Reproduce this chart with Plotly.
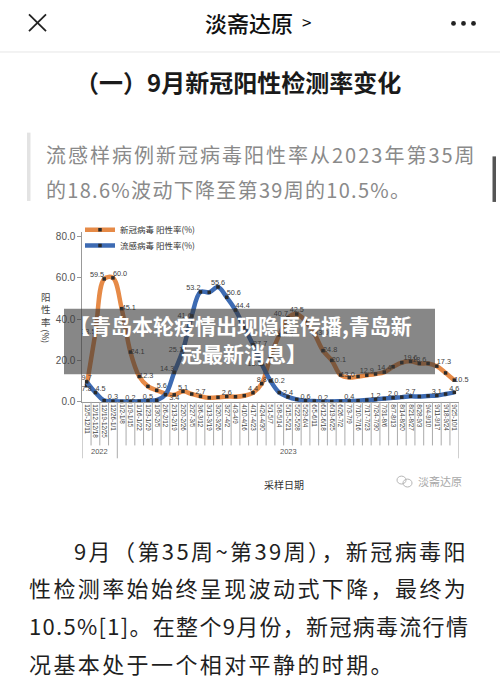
import plotly.graph_objects as go

# ---------------- data ----------------
weeks = ["12/5-12/11", "12/12-12/18", "12/19-12/25", "12/26-1/1",
         "1/2-1/8", "1/9-1/15", "1/16-1/22", "1/23-1/29", "1/30-2/5", "2/6-2/12",
         "2/13-2/19", "2/20-2/26", "2/27-3/5", "3/6-3/12", "3/13-3/19", "3/20-3/26",
         "3/27-4/2", "4/3-4/9", "4/10-4/16", "4/17-4/23", "4/24-4/30", "5/1-5/7",
         "5/8-5/14", "5/15-5/21", "5/22-5/28", "5/29-6/4", "6/5-6/11", "6/12-6/18",
         "6/19-6/25", "6/26-7/2", "7/3-7/9", "7/10-7/16", "7/17-7/23", "7/24-7/30",
         "7/31-8/6", "8/7-8/13", "8/14-8/20", "8/21-8/27", "8/28-9/3", "9/4-9/10",
         "9/11-9/17", "9/18-9/24", "9/25-10/1"]
year_groups = ["2022", "2023"]
year_sizes = [4, 39]

covid_rate = [7.8, 33.5, 59.5, 60.0, 45.1, 24.1, 12.3, 7.5, 5.6, 4.0,
              3.4, 5.1, 3.8, 2.7, 2.0, 2.2, 2.6, 2.5, 3.0, 4.4,
              8.8, 22.0, 32.4, 40.7, 42.5, 39.0, 33.0, 24.8, 20.1, 13.0,
              11.8, 12.3, 12.9, 13.5, 14.4, 17.0, 19.0, 19.6, 18.6, 18.6,
              17.3, 14.0, 10.5]
flu_rate = [9.7, 4.5, 0.6, 0.3, 0.2, 0.2, 0.3, 0.5, 0.8, 3.5,
            14.3, 25.1, 41.6, 53.2, 53.0, 55.6, 50.6, 44.4, 36.0, 27.7,
            18.3, 10.2, 4.5, 2.4, 1.2, 0.6, 0.4, 0.2, 0.2, 0.3,
            0.4, 0.6, 0.9, 1.2, 1.6, 2.0, 2.3, 2.7, 2.6, 2.9,
            3.1, 3.8, 4.6]

# which points carry a data label (index -> label placement)
covid_labels = {0: "bottom center", 1: "middle left", 2: "top left", 3: "top right",
                4: "middle right", 5: "middle right", 6: "middle right", 8: "top right",
                10: "bottom center", 11: "top center", 13: "top center", 16: "top center",
                19: "top center", 20: "top center", 22: "middle right", 23: "top left",
                24: "top center", 26: "middle right", 27: "middle right", 28: "middle right",
                29: "middle right", 32: "top center", 34: "top center", 37: "top center",
                38: "top center", 40: "top right", 42: "middle right"}
flu_labels = {0: "top center", 1: "top right", 3: "top center", 5: "top center",
              7: "top center", 10: "top left", 11: "middle left", 12: "middle left",
              13: "top left", 15: "top center", 16: "top right", 17: "top right",
              19: "middle right", 20: "middle left", 21: "middle right", 23: "top center",
              25: "top center", 27: "top center", 30: "top center", 33: "top center",
              35: "top center", 37: "top center", 40: "top center", 42: "top center"}

# ---------------- helpers ----------------
W, H = 500, 688
CJK = "Noto Sans CJK SC, sans-serif"
NUM = "Liberation Sans, Arial, sans-serif"


def px(x):
    return x / W


def py(y):
    return (H - y) / H


def note(x, y, text, size, color, family=CJK, xanchor="center", yanchor="middle", **kw):
    d = dict(xref="paper", yref="paper", x=px(x), y=py(y), text=text, showarrow=False,
             xanchor=xanchor, yanchor=yanchor, font=dict(size=size, color=color, family=family))
    d.update(kw)
    return d


def spaced(t, sp):
    return f'<span style="letter-spacing:{sp}px">{t}</span>'


fig = go.Figure()
xs = list(range(len(weeks)))

fig.add_trace(go.Scatter(
    x=xs, y=covid_rate, mode="lines+markers", name="新冠病毒 阳性率(%)", legend="legend",
    line=dict(color="#E68A47", width=4.5, shape="spline", smoothing=1.0),
    marker=dict(symbol="square", size=3.5, color="#2a2a2a"), cliponaxis=False))
fig.add_trace(go.Scatter(
    x=xs, y=flu_rate, mode="lines+markers", name="流感病毒 阳性率(%)", legend="legend2",
    line=dict(color="#3D6BB3", width=4.5, shape="spline", smoothing=1.0),
    marker=dict(symbol="square", size=3.5, color="#2a2a2a"), cliponaxis=False))

for series, labels in ((covid_rate, covid_labels), (flu_rate, flu_labels)):
    idx = sorted(labels)
    fig.add_trace(go.Scatter(
        x=idx, y=[series[i] for i in idx], mode="text",
        text=[f"{series[i]:.1f}" for i in idx],
        textposition=[labels[i] for i in idx],
        textfont=dict(size=7.3, color="#404040", family=NUM),
        showlegend=False, cliponaxis=False, hoverinfo="skip"))

shapes = []
ann = []

# category separators of the (multi-level) axis
starts = [0]
for s in year_sizes:
    starts.append(starts[-1] + s)
for b in range(len(weeks) + 1):
    bottom = 462 if b in starts else 449
    shapes.append(dict(type="line", xref="x", yref="paper", x0=b - 0.5, x1=b - 0.5,
                       y0=py(405), y1=py(bottom), line=dict(color="#aaaaaa", width=1)))
for g, name in enumerate(year_groups):
    center = (starts[g] + starts[g + 1] - 1) / 2
    ann.append(dict(xref="x", yref="paper", x=center, y=py(455), text=name,
                    xanchor="center", yanchor="middle",
                    showarrow=False, font=dict(size=7.5, color="#555", family=NUM)))

# axis titles
ann.append(note(284, 488, "采样日期", 10, "#333"))
ann.append(note(46, 312, "阳<br>性<br>率", 9.5, "#444"))
ann.append(note(46, 339, "(%)", 8.5, "#444", textangle=90))

# watermark
ann.append(note(416, 485, "淡斋达原", 11, "#a8a8a8", xanchor="left"))
shapes.append(dict(type="circle", xref="paper", yref="paper", x0=px(397), x1=px(406),
                   y0=py(488), y1=py(480), line=dict(color="#b5b5b5", width=1)))
shapes.append(dict(type="circle", xref="paper", yref="paper", x0=px(403), x1=px(412),
                   y0=py(491), y1=py(483), line=dict(color="#b5b5b5", width=1)))

# ---------------- page chrome ----------------
shapes.append(dict(type="line", xref="paper", yref="paper", x0=px(29), y0=py(13.5),
                   x1=px(46), y1=py(30.5), line=dict(color="#222", width=1.8)))
shapes.append(dict(type="line", xref="paper", yref="paper", x0=px(46), y0=py(13.5),
                   x1=px(29), y1=py(30.5), line=dict(color="#222", width=1.8)))
for cx in (453.5, 463.5, 473.5):
    shapes.append(dict(type="circle", xref="paper", yref="paper", x0=px(cx - 2.4),
                       x1=px(cx + 2.4), y0=py(22.7 + 2.4), y1=py(22.7 - 2.4),
                       fillcolor="#222", line=dict(width=0)))
hdr = note(203, 21, "淡斋达原", 22, "#111", xanchor="left")
hdr["font"]["weight"] = 500
ann.append(hdr)
ann.append(note(300, 20.5, "&gt;", 17, "#111", xanchor="left"))
shapes.append(dict(type="line", xref="paper", yref="paper", x0=0, x1=1,
                   y0=py(51.5), y1=py(51.5), line=dict(color="#e6e6e6", width=1)))

# section title
ann.append(note(238, 81, "<b>（一）9月新冠阳性检测率变化</b>", 24, "#1a1a1a"))

# quote block
shapes.append(dict(type="rect", xref="paper", yref="paper", x0=px(27), x1=px(30.5),
                   y0=py(202), y1=py(133), fillcolor="#e3e3e3", line=dict(width=0)))
quote_lines = [("流感样病例新冠病毒阳性率从2023年第35周", 2.0),
               ("的18.6%波动下降至第39周的10.5%。", 1.3)]
for k, (t, sp) in enumerate(quote_lines):
    ann.append(note(44, 155.5 + 34.5 * k, spaced(t, sp), 20, "#8a8a8a", xanchor="left"))
shapes.append(dict(type="rect", xref="paper", yref="paper", x0=px(492.5), x1=px(496),
                   y0=py(203), y1=py(157), fillcolor="#555", line=dict(width=0)))

# body paragraph
body = [(72, "9月（第35周~第39周），新冠病毒阳", 2.4),
        (27, "性检测率始始终呈现波动式下降，最终为", 2.4),
        (27, "10.5%[1]。在整个9月份，新冠病毒流行情", 1.3),
        (27, "况基本处于一个相对平静的时期。", 2.4)]
for k, (x0, t, sp) in enumerate(body):
    ann.append(note(x0, 554.5 + 38 * k, spaced(t, sp), 22, "#1f1f1f", xanchor="left"))

# overlay banner (semi-transparent)
shapes.append(dict(type="rect", xref="paper", yref="paper", x0=px(64), x1=px(435),
                   y0=py(377), y1=py(311), fillcolor="rgba(55,55,55,0.6)",
                   line=dict(width=0), layer="above"))
ann.append(note(240, 327, "<b>【青岛本轮疫情出现隐匿传播,青岛新</b>", 21, "white"))
ann.append(note(244, 356, "<b>冠最新消息】</b>", 21, "white"))

legend_common = dict(xanchor="left", yanchor="middle", font=dict(size=8.5, color="#333", family=CJK),
                     bgcolor="rgba(0,0,0,0)", itemwidth=30)

fig.update_layout(
    width=W, height=H, margin=dict(l=0, r=0, t=0, b=0),
    paper_bgcolor="white", plot_bgcolor="white",
    showlegend=True,
    legend=dict(x=px(80), y=py(231), **legend_common),
    legend2=dict(x=px(80), y=py(247), **legend_common),
    xaxis=dict(domain=[px(82.3), px(458.7)], range=[-0.5, len(weeks) - 0.5],
               tickmode="array", tickvals=xs, ticktext=weeks, tickangle=90,
               tickfont=dict(size=6.3, color="#444", family=NUM),
               showline=True, linecolor="#999", linewidth=1, showgrid=False,
               zeroline=False, ticks=""),
    yaxis=dict(domain=[py(405), py(233.8)], range=[0, 82], tickvals=[0, 20, 40, 60, 80],
               tickformat=".1f", ticks="outside", ticklen=4, tickcolor="#999",
               showline=True, linecolor="#999", linewidth=1, showgrid=False, zeroline=False,
               tickfont=dict(size=10, color="#555", family=NUM)),
    shapes=shapes, annotations=ann,
)

fig.write_html("out.html", config={"displayModeBar": False},
               post_script="document.body.style.margin='0';document.body.style.overflow='hidden';")
